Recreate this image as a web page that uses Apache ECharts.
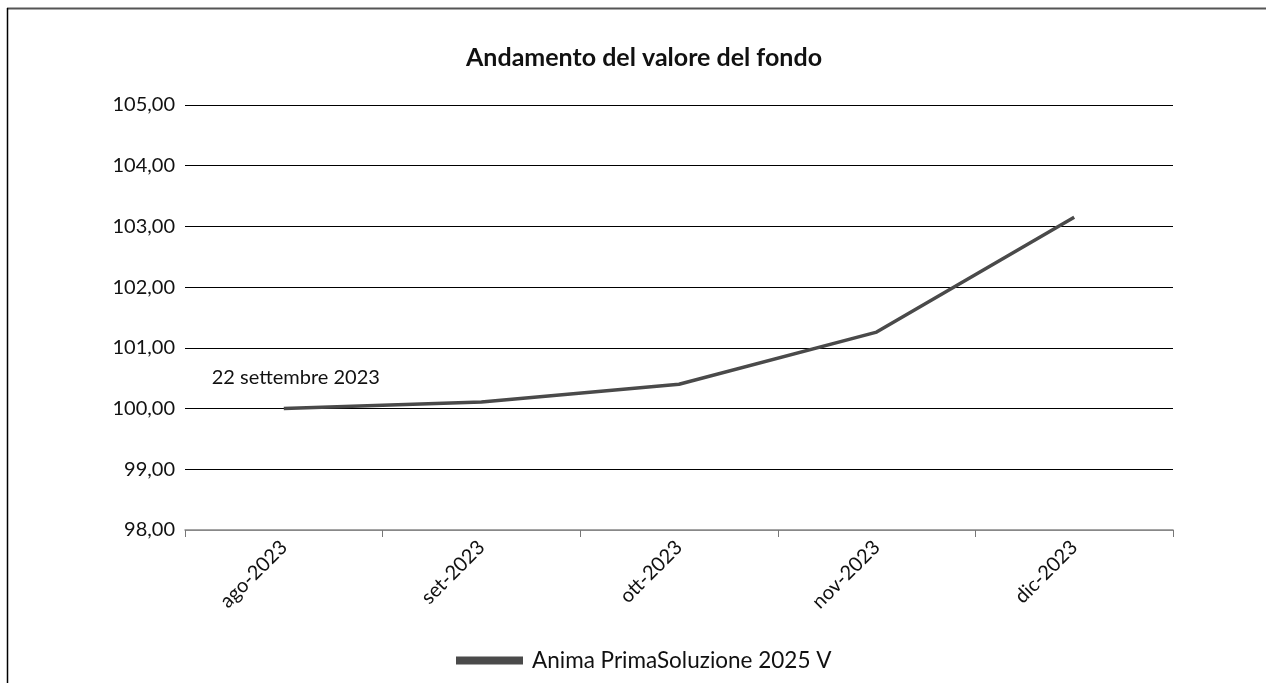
<!DOCTYPE html>
<html>
<head>
<meta charset="utf-8">
<script src="https://cdn.jsdelivr.net/npm/echarts@6/dist/echarts.min.js"></script>
<style>
html,body{margin:0;padding:0;background:#fff;}
#c{width:1266px;height:683px;}
</style>
</head>
<body>
<div id="c"></div>
<script>
const titleText = 'Andamento del valore del fondo';
const categories = ['ago-2023', 'set-2023', 'ott-2023', 'nov-2023', 'dic-2023'];
const seriesName = 'Anima PrimaSoluzione 2025 V';
const values = [100.00, 100.11, 100.40, 101.26, 103.15];
const annotation = '22 settembre 2023';
const annotationAt = [0, 100.00];
const yMin = 98, yMax = 105, yStep = 1;

const chart = echarts.init(document.getElementById('c'));
const font = 'Lato, "Open Sans", sans-serif';

chart.setOption({
  animation: false,
  backgroundColor: '#fff',
  title: {
    text: titleText, left: 461, top: 40,
    textStyle: { fontFamily: font, fontSize: 25, fontWeight: 'bold', color: '#111' }
  },
  legend: {
    bottom: 6, left: 451,
    icon: 'rect', itemWidth: 67, itemHeight: 8, itemGap: 8,
    textStyle: { fontFamily: font, fontSize: 22.5, color: '#111', padding: [0, 0, 0, 4] },
    data: [seriesName]
  },
  grid: { left: 185, right: 93, top: 105, bottom: 153, containLabel: false },
  xAxis: {
    type: 'category', data: categories, boundaryGap: true,
    axisLine: { show: true, lineStyle: { color: '#888', width: 1.5 } },
    axisTick: { show: true, length: 7, lineStyle: { color: '#777', width: 1 } },
    axisLabel: { rotate: 45, margin: 14, fontFamily: font, fontSize: 20, color: '#111' },
    splitLine: { show: false }
  },
  yAxis: {
    type: 'value', min: yMin, max: yMax, interval: yStep,
    axisLine: { show: false }, axisTick: { show: false },
    axisLabel: {
      margin: 10, fontFamily: font, fontSize: 20, color: '#111',
      formatter: v => v.toFixed(2).replace('.', ',')
    },
    splitLine: { show: true, lineStyle: { color: ['#888', '#000', '#000', '#000', '#000', '#000', '#000', '#000'], width: 1 } }
  },
  series: [{
    name: seriesName, type: 'line', data: values,
    symbol: 'none', smooth: false,
    lineStyle: { color: '#4a4a4a', width: 3.5 },
    itemStyle: { color: '#4a4a4a' },
    markPoint: {
      symbol: 'circle', symbolSize: 0, silent: true,
      data: [{
        coord: annotationAt,
        label: {
          show: true, formatter: annotation, position: 'inside',
          offset: [12, -31], color: '#111', fontSize: 20, fontFamily: font
        }
      }]
    }
  }],
  graphic: [
    { type: 'line', shape: { x1: 7, y1: 8.5, x2: 1266, y2: 8.5 }, style: { stroke: '#555', lineWidth: 2 } },
    { type: 'line', shape: { x1: 7.5, y1: 8, x2: 7.5, y2: 683 }, style: { stroke: '#000', lineWidth: 1.5 } }
  ]
});
</script>
</body>
</html>
